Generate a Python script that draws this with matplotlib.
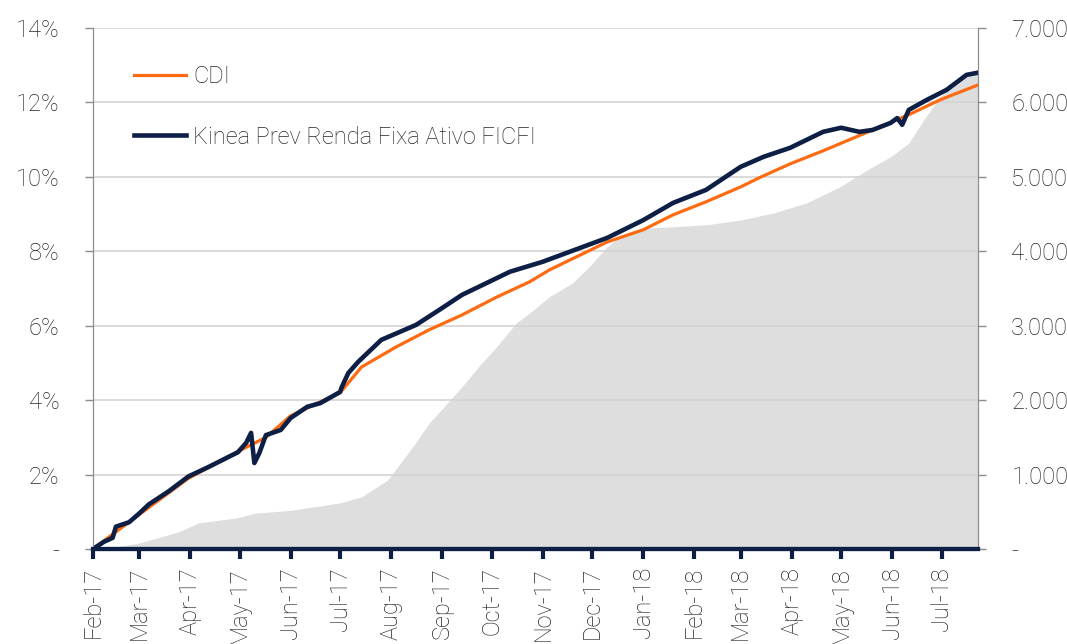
import pandas as pd
import matplotlib.pyplot as plt
from matplotlib.ticker import FixedLocator, FixedFormatter

# Kinea Prev Renda Fixa Ativo FICFI - accumulated return (%)
kinea_dates = [
    "2017-02-01", "2017-02-08", "2017-02-13", "2017-02-15", "2017-02-23", "2017-03-01",
    "2017-03-07", "2017-03-19", "2017-03-31", "2017-04-12", "2017-04-30", "2017-05-05",
    "2017-05-08", "2017-05-10", "2017-05-13", "2017-05-17", "2017-05-26", "2017-06-01",
    "2017-06-11", "2017-06-19", "2017-07-01", "2017-07-02", "2017-07-06", "2017-07-12",
    "2017-07-26", "2017-08-16", "2017-08-30", "2017-09-13", "2017-09-28", "2017-10-12",
    "2017-11-01", "2017-12-10", "2018-01-01", "2018-01-19", "2018-02-08", "2018-03-01",
    "2018-03-15", "2018-03-31", "2018-04-20", "2018-05-01", "2018-05-12", "2018-05-20",
    "2018-05-31", "2018-06-04", "2018-06-07", "2018-06-11", "2018-06-22", "2018-07-04",
    "2018-07-16", "2018-07-23",
]
kinea = [
    0.0, 0.2, 0.3, 0.6, 0.72, 0.95,
    1.2, 1.55, 1.95, 2.2, 2.6, 2.85,
    3.12, 2.31, 2.58, 3.06, 3.2, 3.52,
    3.82, 3.92, 4.22, 4.35, 4.73, 5.03,
    5.62, 6.02, 6.42, 6.83, 7.15, 7.45,
    7.72, 8.36, 8.84, 9.3, 9.65, 10.27,
    10.54, 10.78, 11.21, 11.32, 11.21, 11.26,
    11.45, 11.58, 11.4, 11.8, 12.07, 12.34,
    12.74, 12.8,
]

# CDI - accumulated (%)
cdi_dates = [
    "2017-02-01", "2017-03-01", "2017-03-31", "2017-04-30", "2017-05-17", "2017-06-01",
    "2017-07-01", "2017-07-14", "2017-08-04", "2017-08-24", "2017-09-13", "2017-10-04",
    "2017-10-24", "2017-11-05", "2017-12-10", "2018-01-01", "2018-01-19", "2018-02-08",
    "2018-03-01", "2018-03-12", "2018-03-31", "2018-04-20", "2018-05-20", "2018-06-11",
    "2018-06-30", "2018-07-23",
]
cdi = [
    0.0, 0.92, 1.9, 2.62, 3.0, 3.58,
    4.2, 4.89, 5.43, 5.89, 6.29, 6.77,
    7.18, 7.5, 8.25, 8.58, 8.98, 9.33,
    9.73, 9.97, 10.35, 10.7, 11.26, 11.67,
    12.07, 12.47,
]

# Fund equity (right axis)
pl_dates = [
    "2017-02-01", "2017-02-19", "2017-03-01", "2017-03-25", "2017-04-06", "2017-04-30",
    "2017-05-10", "2017-06-01", "2017-07-01", "2017-07-14", "2017-07-30", "2017-08-14",
    "2017-08-24", "2017-09-13", "2017-09-23", "2017-10-04", "2017-10-16", "2017-10-24",
    "2017-11-05", "2017-11-19", "2017-11-29", "2017-12-10", "2017-12-19", "2018-01-01",
    "2018-01-19", "2018-02-08", "2018-03-01", "2018-03-21", "2018-04-10", "2018-04-30",
    "2018-05-20", "2018-05-31", "2018-06-11", "2018-06-20", "2018-06-30", "2018-07-10",
    "2018-07-23",
]
pl = [
    0, 40, 80, 230, 350, 420,
    480, 520, 620, 700, 930, 1370,
    1690, 2180, 2450, 2720, 3040, 3170,
    3390, 3575, 3790, 4060, 4220, 4310,
    4330, 4355, 4420, 4515, 4650, 4865,
    5135, 5270, 5455, 5765, 6075, 6300,
    6400,
]

month_ticks = pd.date_range("2017-02-01", "2018-07-01", freq="MS")
month_labels = [d.strftime("%b-%y") for d in month_ticks]

navy = "#0d1f45"
orange = "#ff6b12"
text_color = "#262626"
plt.rcParams["font.family"] = ["Roboto", "DejaVu Sans"]
plt.rcParams["font.weight"] = "light"
font_size = 17

fig = plt.figure(figsize=(10.67, 6.44), dpi=100)
ax = fig.add_axes([0.087, 0.1475, 0.8296, 0.809])
ax2 = ax.twinx()

ax2.fill_between(pd.to_datetime(pl_dates), pl, 0, color="#dedede", linewidth=0)
ax2.set_ylim(0, 7000)

# keep lines and gridlines above the grey area
ax.set_zorder(ax2.get_zorder() + 1)
ax.patch.set_visible(False)

ax.plot(pd.to_datetime(cdi_dates), cdi, color=orange, lw=2.3, label="CDI")
ax.plot(pd.to_datetime(kinea_dates), kinea, color=navy, lw=3.3,
        label="Kinea Prev Renda Fixa Ativo FICFI")

ax.set_ylim(0, 14)
ax.set_xlim(pd.Timestamp("2017-02-01"), pd.Timestamp("2018-07-23"))

ax.yaxis.set_major_locator(FixedLocator(range(0, 15, 2)))
ax.yaxis.set_major_formatter(FixedFormatter(["-"] + [f"{v}%" for v in range(2, 15, 2)]))
ax2.yaxis.set_major_locator(FixedLocator(range(0, 7001, 1000)))
ax2.yaxis.set_major_formatter(FixedFormatter(["-"] + [f"{v}.000" for v in range(1, 8)]))
ax.grid(axis="y", color="#d4d4d4", lw=1.2)

ax.set_xticks(month_ticks)
ax.set_xticklabels(month_labels, rotation=90)

for a in (ax, ax2):
    a.spines["top"].set_visible(False)
    a.spines["left"].set_color("#8c8c8c")
    a.spines["right"].set_color("#8c8c8c")
    a.spines["bottom"].set_color(navy)
    a.spines["bottom"].set_linewidth(3)
    a.tick_params(axis="y", colors="#8c8c8c", labelcolor=text_color, labelsize=font_size,
                  length=6, width=1)
ax.tick_params(axis="y", pad=18)
ax2.tick_params(axis="y", pad=18)
ax.tick_params(axis="x", colors=navy, labelcolor=text_color, labelsize=font_size,
               length=7, width=3, pad=6)

legend = ax.legend(loc="upper left", bbox_to_anchor=(0.023, 0.97), frameon=False,
                   fontsize=font_size, handlelength=2.2, handletextpad=0.3,
                   labelspacing=1.6)
plt.setp(legend.get_texts(), color=text_color)

plt.savefig("out.png", dpi=100)
